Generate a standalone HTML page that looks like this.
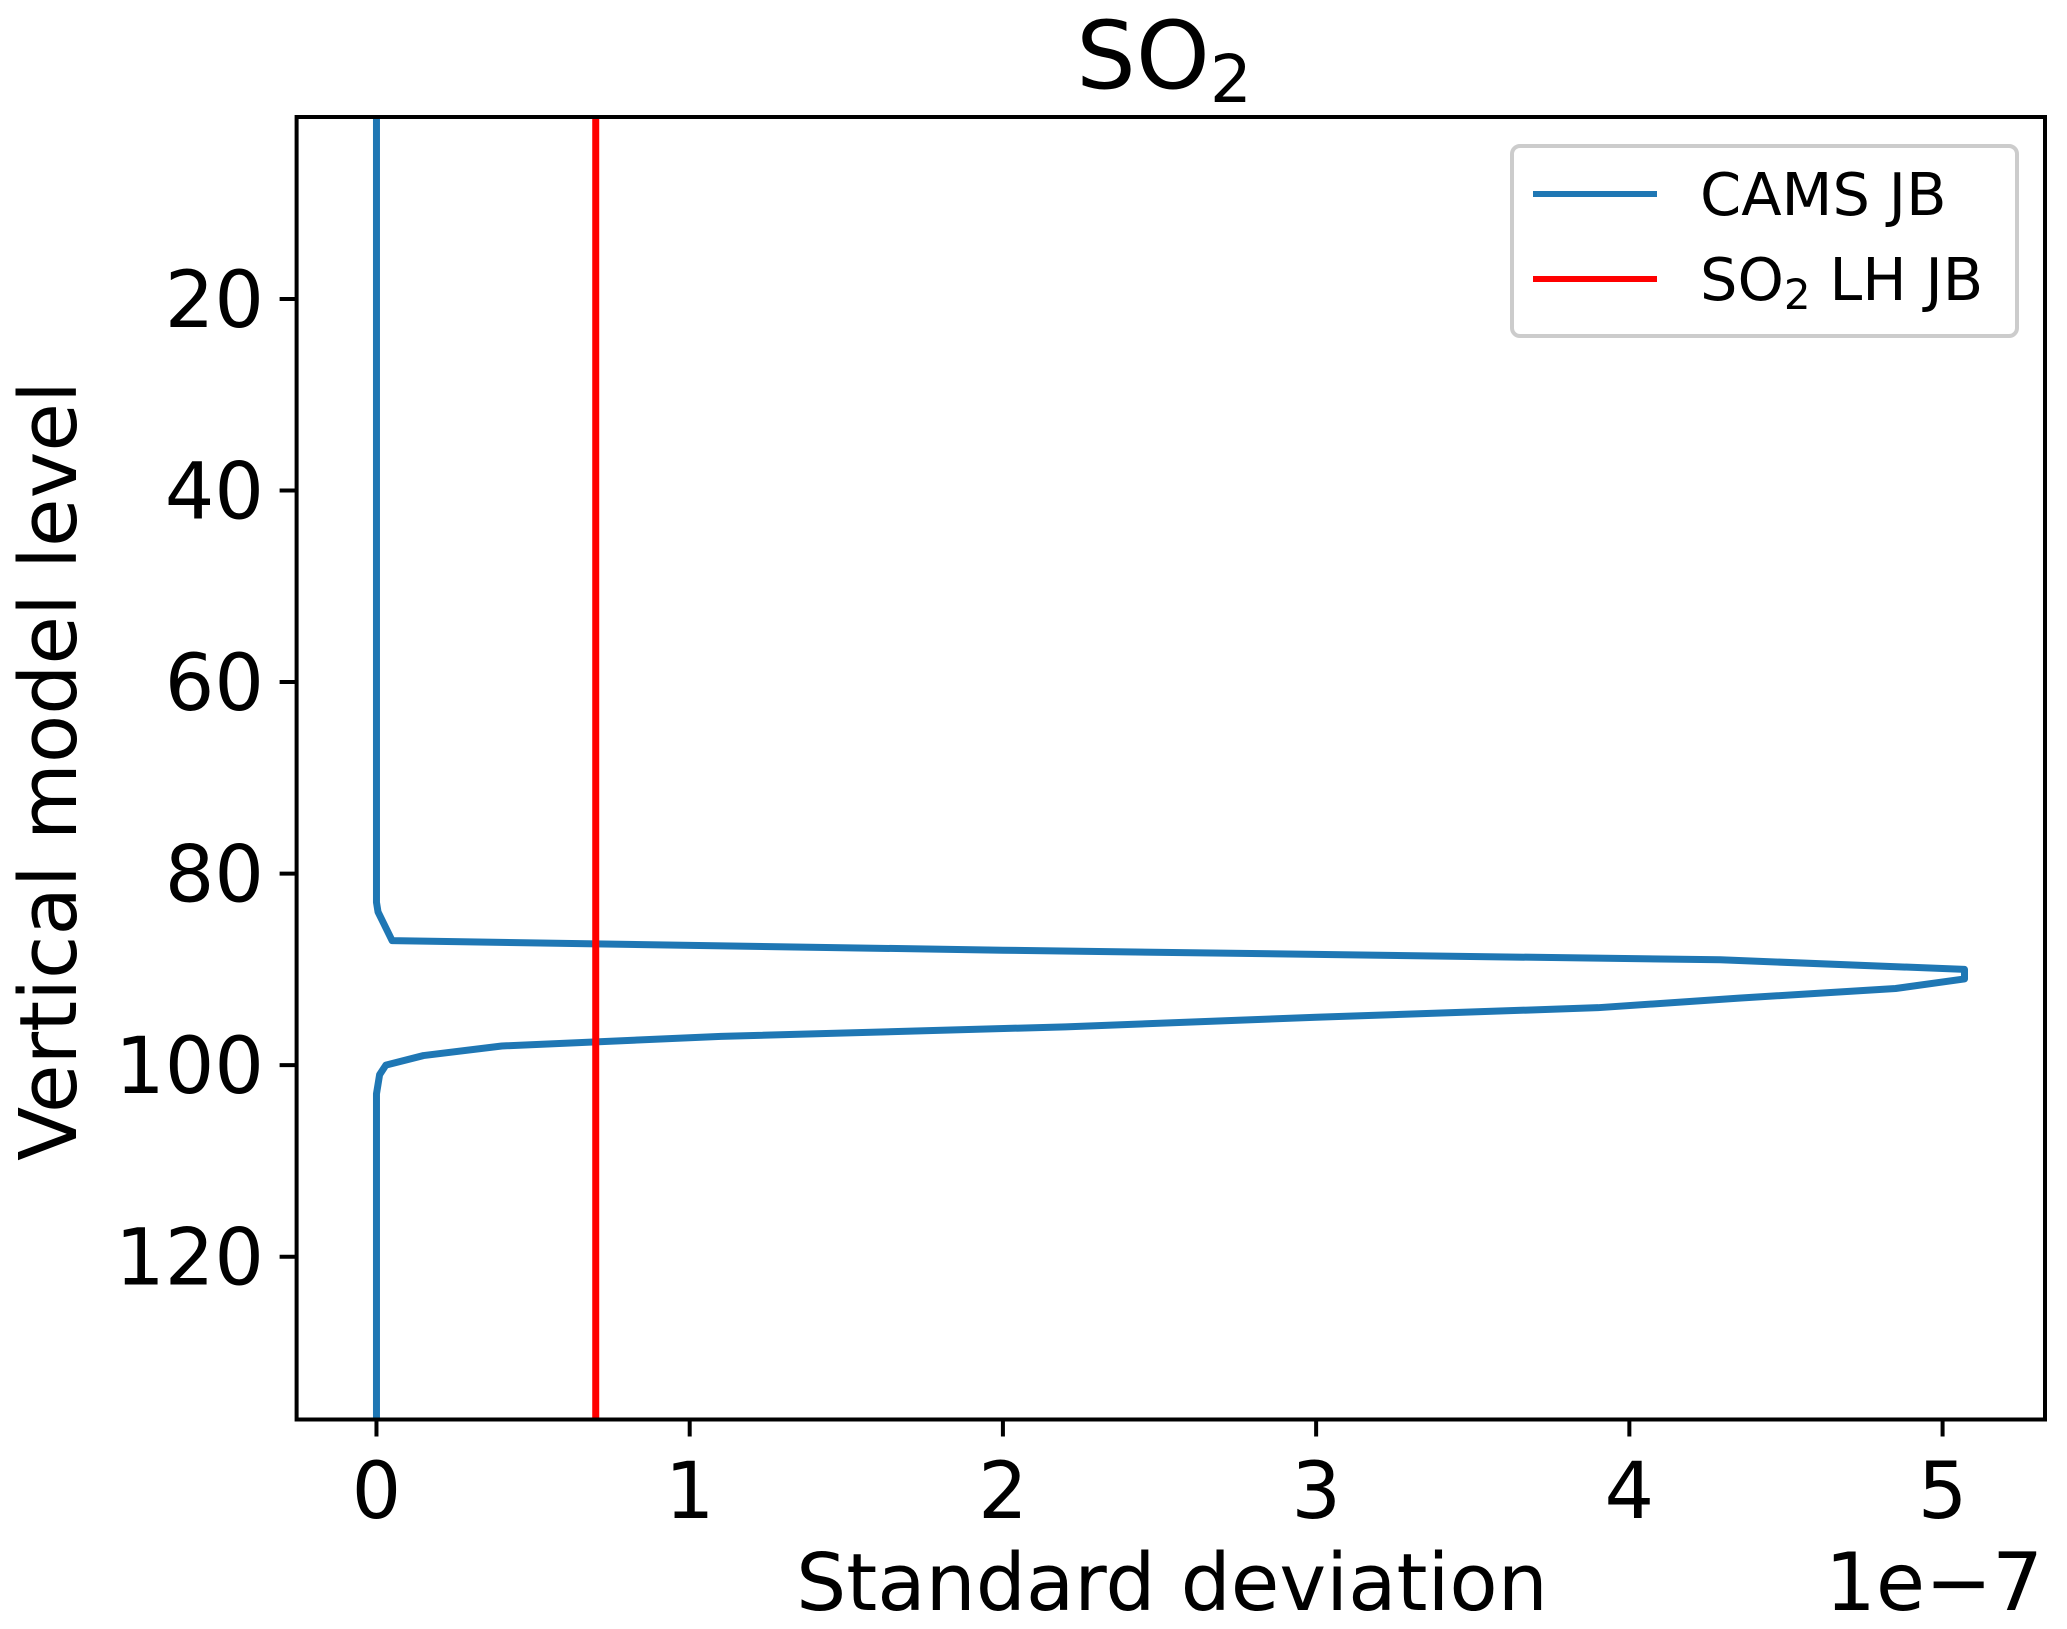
<!DOCTYPE html>
<html><head><meta charset="utf-8"><style>
body{margin:0;background:#fff}
svg{display:block;font-family:"DejaVu Sans","Liberation Sans",sans-serif}
</style></head><body>
<div style="position:relative;width:2067px;height:1629px">
<svg width="2067" height="1629" viewBox="0 0 2067 1629" style="position:absolute;left:0;top:0">
<g id="plot"></g>
</svg>
<svg width="2067" height="1629" style="position:absolute;left:0;top:0">
<text x="1164" y="88" text-anchor="middle" font-size="94">SO<tspan font-size="66" dy="14">2</tspan></text>
<text x="1172" y="1610" text-anchor="middle" font-size="79">Standard deviation</text>
<text x="2043" y="1610" text-anchor="end" font-size="80">1e−7</text>
<text transform="translate(76,771) rotate(-90)" text-anchor="middle" font-size="79">Vertical model level</text>
<g>
<rect x="1512" y="146" width="505" height="190" rx="8" fill="#fff" fill-opacity="0.8" stroke="#ccc" stroke-width="4"/>
<line x1="1533" x2="1657" y1="194" y2="194" stroke="#1f77b4" stroke-width="6"/>
<text x="1700" y="215" font-size="59">CAMS JB</text>
<line x1="1533" x2="1657" y1="279" y2="279" stroke="#ff0000" stroke-width="6"/>
<text x="1700" y="300" font-size="59">SO<tspan font-size="42" dy="9">2</tspan><tspan dy="-9"> LH JB</tspan></text>
</g>
</svg>
</div>
<script>
const levels=[1,83,84,85,87,88,89,90,91,92,93,94,95,96,97,98,99,100,101,102,103,137];
const camsValues=[0,0,0.005,0.02,0.05,2.0,4.29,5.07,5.07,4.85,4.35,3.9,3.0,2.2,1.1,0.4,0.15,0.03,0.01,0.005,0,0];
const lhValue=0.70;
const xTicks=[0,1,2,3,4,5];
const yTicks=[20,40,60,80,100,120];
const L=296.6,R=2045,T=117,B=1419.5,xmin=-0.255,xmax=5.327,ymin=1,ymax=137;
const sx=v=>L+(v-xmin)/(xmax-xmin)*(R-L);
const sy=v=>T+(v-ymin)/(ymax-ymin)*(B-T);
const NS="http://www.w3.org/2000/svg";
const g=document.getElementById('plot');
function mk(tag,attrs,text){const e=document.createElementNS(NS,tag);for(const k in attrs)e.setAttribute(k,attrs[k]);if(text!==undefined)e.textContent=text;g.appendChild(e);return e;}
let e;
e=mk('polyline',{points:levels.map((l,i)=>sx(camsValues[i])+','+sy(l)).join(' '),fill:'none',stroke:'#1f77b4','stroke-width':7,'stroke-linejoin':'round'});


e=mk('line',{x1:sx(lhValue),x2:sx(lhValue),y1:T,y2:B,stroke:'#ff0000','stroke-width':7});


e=mk('rect',{x:L,y:T,width:R-L,height:B-T,fill:'none',stroke:'#000','stroke-width':4});


xTicks.forEach(t=>{
 e=mk('line',{x1:sx(t),x2:sx(t),y1:B,y2:B+17,stroke:'#000','stroke-width':4});
 
 
 e=mk('text',{x:sx(t),y:1518,'text-anchor':'middle','font-size':78},String(t));
 
 
});
yTicks.forEach(t=>{
 e=mk('line',{x1:L-17,x2:L,y1:sy(t),y2:sy(t),stroke:'#000','stroke-width':4});
 
 
 e=mk('text',{x:264,y:sy(t)+28,'text-anchor':'end','font-size':78},String(t));
 
 
});
</script>
</body></html>
